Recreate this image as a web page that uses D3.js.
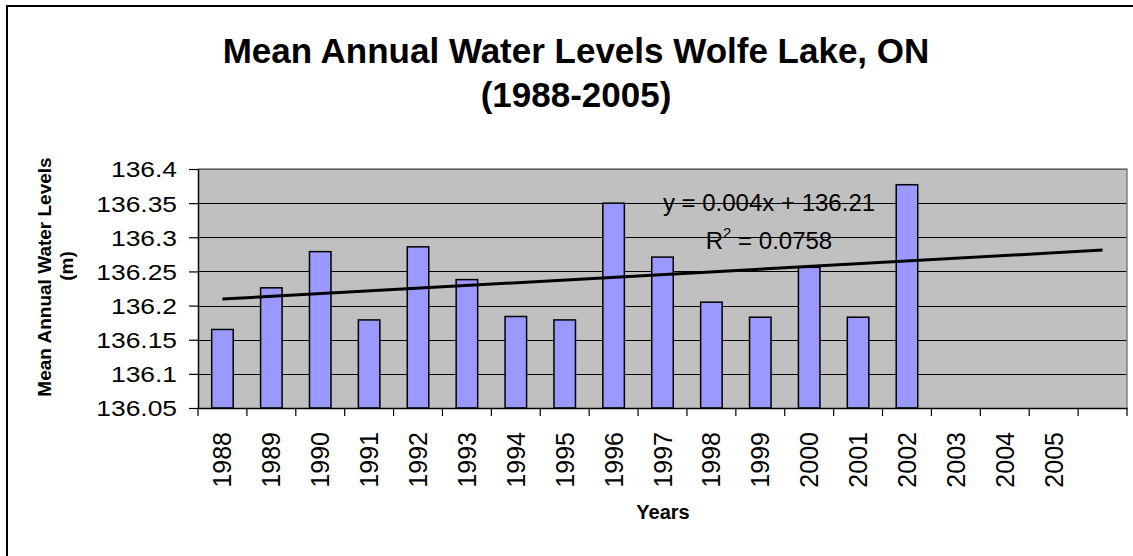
<!DOCTYPE html>
<html><head><meta charset="utf-8">
<script src="https://cdn.jsdelivr.net/npm/d3@7"></script>
<style>
html,body{margin:0;padding:0;background:#fff;}
svg{display:block;font-family:"Liberation Sans",Arial,sans-serif;}
</style></head><body>
<svg id="chart" width="1133" height="556"></svg>
<script>
// ---- data ----
const titleLines = ["Mean Annual Water Levels Wolfe Lake, ON", "(1988-2005)"];
const years = ["1988","1989","1990","1991","1992","1993","1994","1995","1996","1997","1998","1999","2000","2001","2002","2003","2004","2005"];
const levels = [136.165,136.226,136.279,136.179,136.286,136.238,136.184,136.179,136.350,136.271,136.205,136.183,136.256,136.183,136.377];
const yTickValues = [136.05,136.1,136.15,136.2,136.25,136.3,136.35,136.4];
const yTickLabels = ["136.05","136.1","136.15","136.2","136.25","136.3","136.35","136.4"];
const trendPeriods = 19;           // trendline runs over 19 category slots
const trendEquation = "y = 0.004x + 136.21";
const trendR2 = "0.0758";
const yAxisTitle = ["Mean Annual Water Levels", "(m)"];
const xAxisTitle = "Years";

// ---- layout ----
const svg = d3.select("#chart");
const L = 198, R = 1127, T = 169, B = 408;

// outer chart border
svg.append("rect").attr("x",7).attr("y",6).attr("width",1160).attr("height",580)
  .attr("fill","none").attr("stroke","#000").attr("stroke-width",2);

const cats = years.concat([""]);
const x = d3.scaleBand().domain(cats).range([L, R]).padding(0);
const y = d3.scaleLinear().domain([136.05, 136.4]).range([B, T]);
const bw = x.bandwidth();

// plot background
svg.append("rect").attr("x",L).attr("y",T).attr("width",R-L).attr("height",B-T).attr("fill","#C0C0C0");

// gridlines
svg.append("g").selectAll("line").data(yTickValues.slice(1)).join("line")
  .attr("x1",L).attr("x2",R).attr("y1",d=>Math.round(y(d))+0.5).attr("y2",d=>Math.round(y(d))+0.5)
  .attr("stroke","#000").attr("stroke-width",1);

// plot border top/right
svg.append("path").attr("d",`M${L},${T}H${R}V${B}`).attr("fill","none").attr("stroke","#808080").attr("stroke-width",1.5);

// bars
const barW = bw*0.44;
svg.append("g").selectAll("rect").data(levels).join("rect")
  .attr("x",(d,i)=>x(years[i]) + (bw-barW)/2)
  .attr("y",d=>y(d))
  .attr("width",barW)
  .attr("height",d=>B - y(d))
  .attr("fill","#9999FF").attr("stroke","#000").attr("stroke-width",1.5);

// linear trend (least squares on 1..n), extended across all slots
const n = levels.length;
const xs = d3.range(1, n+1);
const mx = d3.mean(xs), my = d3.mean(levels);
const sxy = d3.sum(xs, (xi,i)=>(xi-mx)*(levels[i]-my));
const sxx = d3.sum(xs, xi=>(xi-mx)*(xi-mx));
const slope = sxy/sxx, intercept = my - slope*mx;
const trendPts = d3.range(1, trendPeriods+1).map(k=>[x(cats[k-1]) + bw/2, y(intercept + slope*k)]);
svg.append("path").attr("d", d3.line()([trendPts[0], trendPts[trendPts.length-1]]))
  .attr("stroke","#000").attr("stroke-width",3).attr("fill","none");

// y axis
const yAxis = svg.append("g").attr("transform",`translate(${L},0)`)
  .call(d3.axisLeft(y).tickValues(yTickValues).tickFormat((d,i)=>yTickLabels[i]).tickSize(9).tickSizeOuter(0));
yAxis.select(".domain").attr("stroke","#000").attr("stroke-width",1.5);
yAxis.selectAll(".tick line").attr("stroke","#000").attr("stroke-width",1.2);
yAxis.selectAll(".tick text").attr("font-size","22px").attr("fill","#000")
  .attr("font-family","'Liberation Sans',Arial,sans-serif")
  .attr("x",-21/1.2).attr("dy","0.36em").attr("transform","scale(1.2,1)");

// x axis
const xAxis = svg.append("g").attr("transform",`translate(0,${B})`)
  .call(d3.axisBottom(x).tickSize(0).tickSizeOuter(0));
xAxis.select(".domain").attr("stroke","#000").attr("stroke-width",1.5);
xAxis.selectAll(".tick text").attr("font-size","25px").attr("fill","#000")
  .attr("font-family","'Liberation Sans',Arial,sans-serif")
  .attr("transform","rotate(-90)").attr("text-anchor","end")
  .attr("x",-24).attr("y",0).attr("dy","0.36em");
// boundary tick marks
svg.append("g").selectAll("line").data(cats.map(c=>x(c)).concat([R])).join("line")
  .attr("x1",d=>d).attr("x2",d=>d).attr("y1",B).attr("y2",B+8)
  .attr("stroke","#000").attr("stroke-width",1.2);

// titles
const title = svg.append("text").attr("text-anchor","middle").attr("font-weight","bold").attr("font-size","35px").attr("fill","#000");
title.selectAll("tspan").data(titleLines).join("tspan").attr("x",576).attr("y",(d,i)=>i===0?62.5:107).text(d=>d);

svg.append("text").attr("transform","translate(51,277) rotate(-90)").attr("text-anchor","middle")
  .attr("font-weight","bold").attr("font-size","19px").text(yAxisTitle[0]);
svg.append("text").attr("transform","translate(73,266) rotate(-90)").attr("text-anchor","middle")
  .attr("font-weight","bold").attr("font-size","19px").text(yAxisTitle[1]);

svg.append("text").attr("x",663).attr("y",519).attr("text-anchor","middle")
  .attr("font-weight","bold").attr("font-size","20px").text(xAxisTitle);

// trendline label
svg.append("text").attr("x",769).attr("y",211).attr("text-anchor","middle").attr("font-size","24px").text(trendEquation);
const r2 = svg.append("text").attr("x",769).attr("y",249).attr("text-anchor","middle").attr("font-size","24px");
r2.append("tspan").text("R");
r2.append("tspan").attr("font-size","15px").attr("dy",-11).text("2");
r2.append("tspan").attr("dy",11).text(" = " + trendR2);
</script>
</body></html>
